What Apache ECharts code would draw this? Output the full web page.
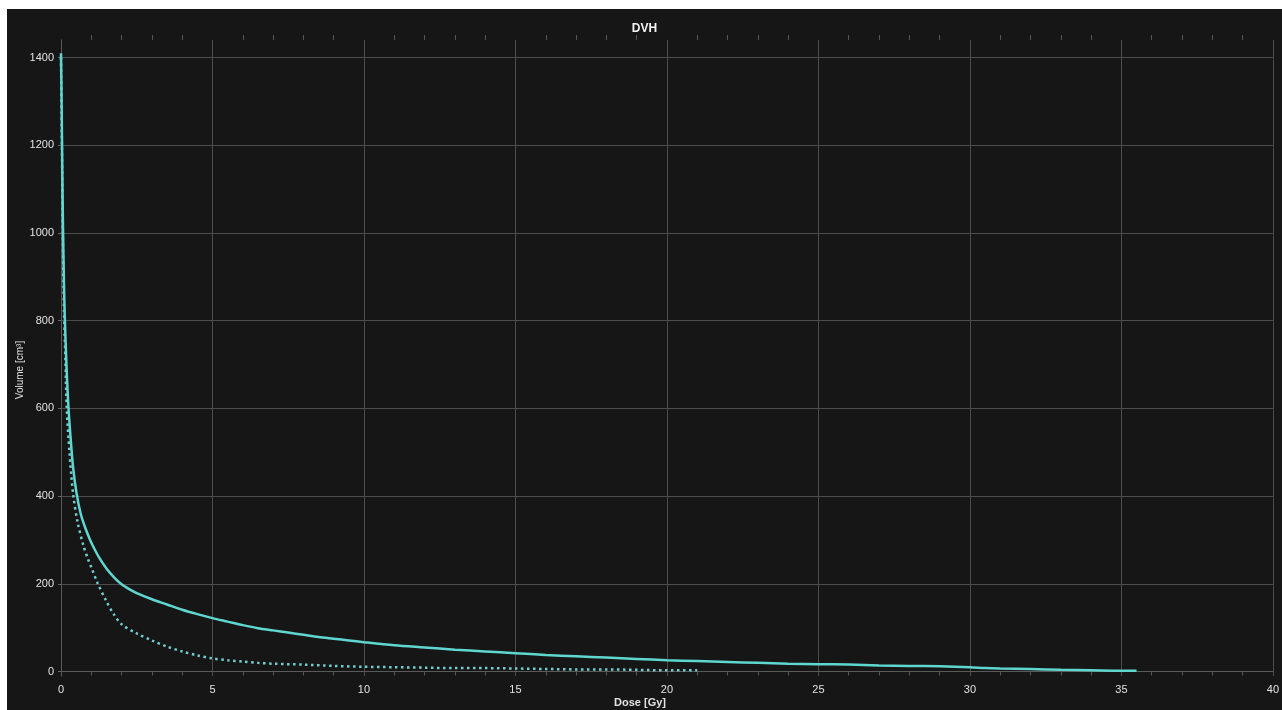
<!DOCTYPE html>
<html>
<head>
<meta charset="utf-8">
<title>DVH</title>
<script src="https://cdn.jsdelivr.net/npm/echarts@6/dist/echarts.min.js"></script>
<style>
  html, body { margin: 0; padding: 0; background: #ffffff; width: 1282px; height: 710px; overflow: hidden; }
  #chart { position: absolute; left: 7px; top: 9px; width: 1275px; height: 701px; }
</style>
</head>
<body>
<div id="chart"></div>
<script>
// Cumulative dose-volume histogram, structure 1 (solid curve)
const doseSolid = [0, 0.02, 0.05, 0.08, 0.12, 0.18, 0.24, 0.32, 0.4, 0.51, 0.65, 0.8, 0.95, 1.1, 1.25, 1.5, 1.75, 2.0, 2.25, 2.5, 3.0, 3.5, 4.0, 4.5, 5.0, 5.5, 6.0, 6.5, 7.0, 7.5, 8.0, 8.5, 9.0, 9.5, 10, 11, 12, 13, 14, 15, 16, 17, 18, 19, 20, 21, 22, 23, 24, 25, 26, 27, 28, 29, 30, 30.5, 31, 32, 33, 34, 35, 35.5];
const volumeSolid = [1410, 1300, 1100, 950, 820, 700, 610, 530, 465, 408, 360, 328, 302, 280, 261, 235, 215, 199, 188, 179, 165, 153, 141, 131, 122, 114, 106, 99, 94, 89, 84, 79, 75, 71, 67, 60, 55, 50, 46, 42, 38, 35, 32, 29, 26, 24, 22, 20, 18, 17, 16, 14, 13, 12, 10, 8, 7, 6, 4, 3, 2, 2];

// Cumulative dose-volume histogram, structure 2 (dotted curve)
const doseDotted = [0, 0.03, 0.06, 0.1, 0.15, 0.19, 0.28, 0.4, 0.55, 0.75, 0.9, 1.0, 1.2, 1.5, 1.75, 2.0, 2.5, 3.0, 3.5, 4.0, 4.5, 5.0, 5.5, 6.0, 6.5, 7.0, 8, 9, 10, 11, 12, 13, 14, 15, 16, 17, 18, 19, 20, 21];
const volumeDotted = [1400, 1200, 1000, 820, 700, 600, 500, 405, 340, 285, 255, 238, 203, 160, 130, 108, 87, 71, 57, 46, 37, 30, 26, 23, 20, 18, 16, 13, 11, 10, 9, 8, 8, 7, 6, 5, 5, 4, 3, 3];

// Axis ticks
const doseTicks = [0, 5, 10, 15, 20, 25, 30, 35, 40];
const volumeTicks = [0, 200, 400, 600, 800, 1000, 1200, 1400];

const pairs = (xs, ys) => xs.map((x, i) => [x, ys[i]]);

const textColor = '#e2e2e2';
const gridColor = '#4c4c4c';
const font = '"Liberation Sans", Arial, sans-serif';

const chart = echarts.init(document.getElementById('chart'), null, { renderer: 'canvas' });

chart.setOption({
  animation: false,
  backgroundColor: '#161616',
  title: {
    text: 'DVH',
    left: 'center',
    top: 9,
    textStyle: { color: '#f2f2f2', fontSize: 12, fontWeight: 'bold', fontFamily: font }
  },
  grid: { left: 54, right: 4, top: 31, bottom: 34, containLabel: false },
  xAxis: [
    {
      type: 'value',
      min: 0,
      max: 40,
      interval: 5,
      position: 'bottom',
      axisLine: { show: true, lineStyle: { color: '#5a5a5a', width: 1 } },
      axisTick: { show: false },
      minorTick: { show: true, splitNumber: 5, length: 4, lineStyle: { color: '#555555' } },
      axisLabel: {
        color: textColor, fontSize: 11, fontFamily: font, margin: 8,
        customValues: doseTicks,
        formatter: v => String(v)
      },
      splitLine: { show: true, lineStyle: { color: gridColor, width: 1 } }
    },
    {
      type: 'value',
      min: 0,
      max: 40,
      interval: 5,
      position: 'top',
      axisLine: { show: false },
      axisTick: { show: false },
      minorTick: { show: true, splitNumber: 5, length: 5, lineStyle: { color: '#555555' } },
      axisLabel: { show: false },
      splitLine: { show: false }
    }
  ],
  yAxis: [
    {
      type: 'value',
      min: -10,
      max: 1440,
      axisLine: { show: true, lineStyle: { color: '#5a5a5a', width: 1 } },
      axisTick: { show: true, length: 3, customValues: volumeTicks, lineStyle: { color: '#666666' } },
      axisLabel: {
        color: textColor, fontSize: 11, fontFamily: font, margin: 7,
        customValues: volumeTicks,
        formatter: v => String(v)
      },
      splitLine: { show: true, lineStyle: { color: gridColor, width: 1 } }
    }
  ],
  graphic: [
    {
      type: 'text',
      x: 633,
      y: 694,
      style: {
        text: 'Dose [Gy]',
        fill: textColor,
        font: 'bold 11px ' + font,
        align: 'center',
        verticalAlign: 'middle'
      }
    },
    {
      type: 'text',
      x: 13,
      y: 361,
      rotation: Math.PI / 2,
      style: {
        text: 'Volume [cm³]',
        fill: textColor,
        font: '10px ' + font,
        align: 'center',
        verticalAlign: 'middle'
      }
    }
  ],
  series: [
    {
      name: 'Structure 2',
      type: 'line',
      data: pairs(doseDotted, volumeDotted),
      showSymbol: false,
      smooth: 0.3,
      lineStyle: { color: '#6fcfcc', width: 2.5, type: [2.5, 3.5], cap: 'butt' }
    },
    {
      name: 'Structure 1',
      type: 'line',
      data: pairs(doseSolid, volumeSolid),
      showSymbol: false,
      smooth: 0.3,
      lineStyle: { color: '#5fd6d0', width: 2.5 }
    }
  ]
});
</script>
</body>
</html>
